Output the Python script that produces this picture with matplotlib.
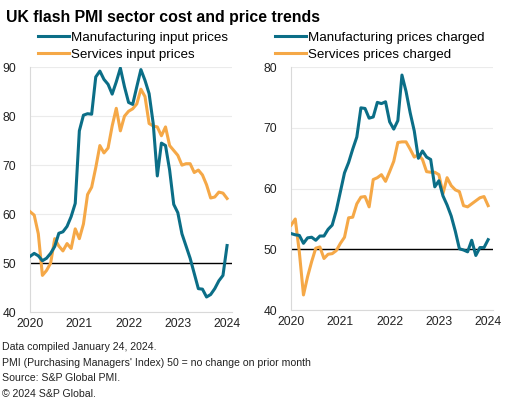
import numpy as np
import matplotlib.pyplot as plt

plt.rcParams['font.family'] = ['Liberation Sans', 'DejaVu Sans']

# monthly, Jan 2020 .. Jan 2024
months = np.arange(49)
year_ticks = [0, 12, 24, 36, 48]
year_labels = ["2020", "2021", "2022", "2023", "2024"]

mfg_input = [51.4, 52.0, 51.5, 50.5, 51.0, 52.0, 53.4, 56.1, 56.4, 57.5, 59.5, 62.2,
             77.0, 80.2, 80.5, 80.4, 88.0, 89.2, 87.5, 86.5, 84.5, 87.0, 89.8, 86.0,
             82.8, 82.4, 86.0, 89.5, 87.3, 84.6, 78.5, 67.8, 74.5, 74.0, 69.0, 62.0,
             60.3, 56.0, 53.5, 51.0, 47.9, 44.8, 44.7, 43.1, 43.6, 44.8, 46.4, 47.5, 53.6]
svc_input = [60.5, 59.8, 56.0, 47.5, 48.5, 50.0, 55.0, 53.5, 52.5, 54.0, 53.0, 57.0,
             55.0, 58.0, 64.0, 65.5, 69.5, 74.0, 72.5, 73.5, 78.0, 81.6, 77.0, 80.0,
             81.0, 81.5, 82.5, 85.5, 84.0, 78.5, 78.0, 77.8, 76.0, 77.8, 74.0, 73.0,
             72.0, 70.0, 70.3, 70.3, 68.5, 69.0, 68.0, 66.0, 63.3, 63.5, 64.5, 64.3, 63.2]
mfg_output = [52.6, 52.4, 52.3, 51.0, 51.9, 52.0, 51.5, 52.2, 52.2, 53.3, 54.0, 56.4,
              59.5, 62.6, 64.3, 66.5, 68.5, 73.3, 73.2, 71.6, 71.8, 74.2, 74.0, 74.3,
              71.0, 69.8, 71.2, 78.7, 76.0, 72.5, 69.5, 65.0, 66.2, 65.2, 64.8, 60.3,
              61.3, 58.8, 57.3, 55.5, 53.0, 50.1, 49.9, 49.6, 51.5, 49.0, 50.3, 50.3, 51.6]
svc_output = [54.0, 55.0, 49.5, 42.5, 45.5, 48.0, 50.2, 50.4, 48.5, 49.2, 49.3, 49.8,
              51.0, 52.0, 55.2, 55.3, 57.5, 58.6, 58.7, 57.0, 61.5, 61.8, 62.3, 61.2,
              62.8, 64.5, 67.6, 67.7, 67.7, 66.5, 65.2, 65.6, 64.8, 62.8, 62.7, 62.7,
              62.3, 59.2, 61.8, 60.5, 59.8, 59.5, 57.2, 57.0, 57.5, 58.0, 58.5, 58.7, 57.2]

teal = "#0b6e87"
orange = "#f5a847"

fig = plt.figure(figsize=(5.19, 4.07), dpi=100)
fig.text(0.012, 0.975, "UK flash PMI sector cost and price trends",
         fontsize=11.4, fontweight="bold", va="top", ha="left")

panels = [
    ([0.058, 0.233, 0.389, 0.602], mfg_input, svc_input,
     "Manufacturing input prices", "Services input prices", (40, 90),
     [40, 50, 60, 70, 80, 90], 0.04),
    ([0.561, 0.238, 0.389, 0.597], mfg_output, svc_output,
     "Manufacturing prices charged", "Services prices charged", (40, 80),
     [40, 50, 60, 70, 80], -0.08),
]

for rect, mfg, svc, lab1, lab2, ylim, yticks, lx in panels:
    ax = fig.add_axes(rect)
    ax.plot(months, svc, color=orange, lw=2.2, label=lab2, zorder=3)
    ax.plot(months, mfg, color=teal, lw=2.2, label=lab1, zorder=4)
    ax.axhline(50, color="black", lw=1.0, zorder=2)
    ax.set_xlim(0, 49.2)
    ax.set_ylim(*ylim)
    ax.set_yticks(yticks)
    ax.set_xticks(year_ticks)
    ax.set_xticklabels(year_labels)
    ax.grid(axis="y", color="#ebebeb", lw=0.8)
    ax.set_axisbelow(True)
    for s in ["top", "right"]:
        ax.spines[s].set_visible(False)
    for s in ["left", "bottom"]:
        ax.spines[s].set_color("#d9d9d9")
        ax.spines[s].set_linewidth(0.8)
    ax.tick_params(length=0, labelsize=8.7, colors="#222222", pad=4)
    ax.tick_params(axis="y", pad=10)
    h, l = ax.get_legend_handles_labels()
    ax.legend(h[::-1], l[::-1], loc="lower left", bbox_to_anchor=(lx, 1.025),
              frameon=False, fontsize=9.6, handlelength=2.3, handletextpad=0.15,
              labelspacing=0.38, borderaxespad=0, borderpad=0)

foot = ["Data compiled January 24, 2024.",
        "PMI (Purchasing Managers' Index) 50 = no change on prior month",
        "Source: S&P Global PMI.",
        "\u00a9 2024 S&P Global."]
for i, t in enumerate(foot):
    fig.text(0.004, 1 - (347 + 15.7 * i) / 407, t, fontsize=7.55, va="center", ha="left",
             color="#222222")

fig.savefig("out.png", dpi=100)
